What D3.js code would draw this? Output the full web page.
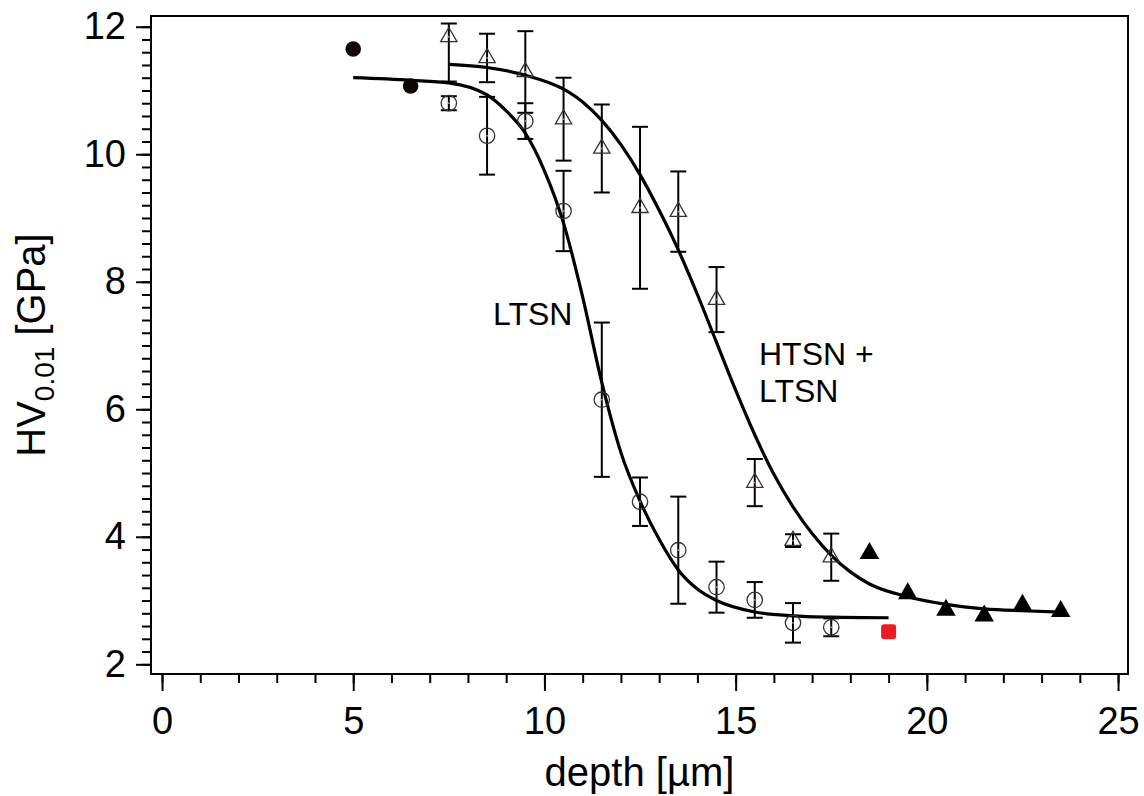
<!DOCTYPE html>
<html>
<head>
<meta charset="utf-8">
<script src="https://cdn.jsdelivr.net/npm/d3@7/dist/d3.min.js"></script>
<style>
	body { margin: 0; background: #fff; }
	svg text { font-family: Arial, "Liberation Sans", sans-serif; fill: #000; }
</style>
</head>
<body>
<svg id="chartSVG" width="1144" height="796"></svg>
<script>

// measured points, LTSN (open circles)
var ltsnX = [7.5, 8.5, 9.5, 10.5, 11.5, 12.5, 13.5, 14.5, 15.5, 16.5, 17.5];
var ltsnY = [10.80, 10.29, 10.52, 9.11, 6.15, 4.55, 3.79, 3.21, 3.01, 2.65, 2.58];
var ltsnErr = [0.11, 0.61, 0.28, 0.63, 1.21, 0.38, 0.84, 0.40, 0.28, 0.31, 0.14];

// HTSN + LTSN (open triangles)
var htsnX = [7.5, 8.5, 9.5, 10.5, 11.5, 12.5, 13.5, 14.5, 15.5, 16.5, 17.5];
var htsnY = [11.84, 11.51, 11.29, 10.55, 10.09, 9.16, 9.10, 7.72, 4.85, 3.94, 3.68];
var htsnErrUp = [0.21, 0.38, 0.64, 0.65, 0.69, 1.27, 0.63, 0.51, 0.37, 0.10, 0.37];
var htsnErrDown = [0.70, 0.38, 0.64, 0.65, 0.69, 1.27, 0.63, 0.51, 0.37, 0.10, 0.37];

// filled triangles
var deepX = [18.5, 19.5, 20.5, 21.5, 22.5, 23.5];
var deepY = [3.74, 3.11, 2.85, 2.76, 2.93, 2.83];

// filled circles near surface
var surfX = [5, 6.5];
var surfY = [11.65, 11.07];

// red square
var coreX = [19];
var coreY = [2.51];

// fitted curves
var ltsnFitX = [5, 6.5, 7.5, 8.5, 9, 9.5, 10, 10.5, 11, 11.5, 12, 12.5, 13, 13.5, 14, 14.5, 15.5, 16.5, 17.5, 19];
var ltsnFitY = [11.20, 11.16, 11.12, 10.93, 10.68, 10.33, 9.74, 8.92, 7.76, 6.42, 5.32, 4.56, 3.96, 3.48, 3.18, 3.00, 2.82, 2.76, 2.74, 2.73];

var htsnFitX = [7.5, 8.5, 9.5, 10.5, 11, 11.5, 12, 12.5, 13, 13.5, 14, 14.5, 15, 15.5, 16, 16.5, 17, 17.5, 18, 18.5, 19.5, 20.5, 21.5, 22.5, 23.5];
var htsnFitY = [11.41, 11.36, 11.24, 11.02, 10.82, 10.53, 10.15, 9.68, 9.12, 8.50, 7.80, 7.05, 6.30, 5.60, 4.98, 4.47, 4.05, 3.71, 3.45, 3.26, 3.06, 2.94, 2.87, 2.84, 2.82];

var xMajor = [0, 5, 10, 15, 20, 25];
var xMinor = d3.range(0, 26, 1);
var yMajor = [2, 4, 6, 8, 10, 12];
var yMinor = d3.range(2, 12.01, 0.2);

var svg = d3.select("#chartSVG");

var plot = {left: 151, right: 1128, top: 16, bottom: 674};

var xScale = d3.scaleLinear()
	.domain([-0.288, 25.26])
	.range([plot.left, plot.right]);

var yScale = d3.scaleLinear()
	.domain([1.848, 12.168])
	.range([plot.bottom, plot.top]);

function zip(xs, ys) {
	return xs.map(function(d, i) { return {x: d, y: ys[i]}; });
}

drawAxes();
drawCurves();
drawPoints();
drawLabels();

function drawAxes() {

	// minor ticks first, then the labelled ones
	svg.append("g")
		.attr("class", "xMinor")
		.attr("transform", "translate(0," + plot.bottom + ")")
		.call(d3.axisBottom(xScale).tickValues(xMinor).tickSize(9).tickFormat(""));

	svg.append("g")
		.attr("class", "xMajor")
		.attr("transform", "translate(0," + plot.bottom + ")")
		.call(d3.axisBottom(xScale).tickValues(xMajor).tickSize(17).tickPadding(16).tickFormat(d3.format("d")));

	svg.append("g")
		.attr("class", "yMinor")
		.attr("transform", "translate(" + plot.left + ",0)")
		.call(d3.axisLeft(yScale).tickValues(yMinor).tickSize(9).tickFormat(""));

	svg.append("g")
		.attr("class", "yMajor")
		.attr("transform", "translate(" + plot.left + ",0)")
		.call(d3.axisLeft(yScale).tickValues(yMajor).tickSize(15).tickPadding(10).tickFormat(d3.format("d")));

	svg.selectAll(".domain").remove();

	svg.selectAll(".tick line")
		.attr("stroke", "#000")
		.attr("stroke-width", 2);

	svg.selectAll(".tick text")
		.style("font-size", "38px");

	svg.append("rect")
		.attr("x", plot.left)
		.attr("y", plot.top)
		.attr("width", plot.right - plot.left)
		.attr("height", plot.bottom - plot.top)
		.attr("fill", "none")
		.attr("stroke", "#000")
		.attr("stroke-width", 2);

}

function drawCurves() {

	var line = d3.line()
		.curve(d3.curveMonotoneX)
		.x(function(d) { return xScale(d.x); })
		.y(function(d) { return yScale(d.y); });

	svg.append("g")
		.attr("class", "fits")
		.selectAll("path")
		.data([zip(ltsnFitX, ltsnFitY), zip(htsnFitX, htsnFitY)])
		.enter()
		.append("path")
		.attr("d", line)
		.attr("fill", "none")
		.attr("stroke", "#000")
		.attr("stroke-width", 3.2);

}

function errorBars(g, data) {

	var cap = 8;

	var bars = g.selectAll("g.err")
		.data(data)
		.enter()
		.append("g")
		.attr("class", "err")
		.attr("stroke", "#000")
		.attr("stroke-width", 2);

	bars.append("line")
		.attr("x1", d => xScale(d.x))
		.attr("x2", d => xScale(d.x))
		.attr("y1", d => yScale(d.lo))
		.attr("y2", d => yScale(d.hi));

	bars.append("line")
		.attr("x1", d => xScale(d.x) - cap)
		.attr("x2", d => xScale(d.x) + cap)
		.attr("y1", d => yScale(d.lo))
		.attr("y2", d => yScale(d.lo));

	bars.append("line")
		.attr("x1", d => xScale(d.x) - cap)
		.attr("x2", d => xScale(d.x) + cap)
		.attr("y1", d => yScale(d.hi))
		.attr("y2", d => yScale(d.hi));

}

function drawPoints() {

	var ltsn = ltsnX.map(function(d, i) {
		return {x: d, y: ltsnY[i], lo: ltsnY[i] - ltsnErr[i], hi: ltsnY[i] + ltsnErr[i]};
	});

	var htsn = htsnX.map(function(d, i) {
		return {x: d, y: htsnY[i], lo: htsnY[i] - htsnErrDown[i], hi: htsnY[i] + htsnErrUp[i]};
	});

	var g = svg.append("g").attr("class", "points");

	errorBars(g.append("g"), htsn);
	errorBars(g.append("g"), ltsn);

	var openTriangle = d3.symbol().type(d3.symbolTriangle).size(115);
	var fullTriangle = d3.symbol().type(d3.symbolTriangle).size(165);

	g.append("g")
		.selectAll("path")
		.data(htsn)
		.enter()
		.append("path")
		.attr("d", openTriangle)
		.attr("transform", d => "translate(" + xScale(d.x) + "," + yScale(d.y) + ")")
		.attr("fill", "none")
		.attr("stroke", "#333")
		.attr("stroke-width", 1.3);

	g.append("g")
		.selectAll("circle")
		.data(ltsn)
		.enter()
		.append("circle")
		.attr("cx", d => xScale(d.x))
		.attr("cy", d => yScale(d.y))
		.attr("r", 7.7)
		.attr("fill", "none")
		.attr("stroke", "#333")
		.attr("stroke-width", 1.3);

	// tiny reddish centre dots seen in the scan
	g.append("g")
		.selectAll("circle")
		.data(ltsn.concat(htsn))
		.enter()
		.append("circle")
		.attr("cx", d => xScale(d.x))
		.attr("cy", d => yScale(d.y))
		.attr("r", 0.9)
		.attr("fill", "#e08080");

	g.append("g")
		.selectAll("path")
		.data(zip(deepX, deepY))
		.enter()
		.append("path")
		.attr("d", fullTriangle)
		.attr("transform", d => "translate(" + xScale(d.x) + "," + yScale(d.y) + ")")
		.attr("fill", "#000");

	g.append("g")
		.selectAll("circle")
		.data(zip(surfX, surfY))
		.enter()
		.append("circle")
		.attr("cx", d => xScale(d.x))
		.attr("cy", d => yScale(d.y))
		.attr("r", 7.8)
		.attr("fill", "#100505");

	g.append("g")
		.selectAll("rect")
		.data(zip(coreX, coreY))
		.enter()
		.append("rect")
		.attr("x", d => xScale(d.x) - 7.5)
		.attr("y", d => yScale(d.y) - 7.5)
		.attr("width", 15)
		.attr("height", 15)
		.attr("rx", 3)
		.attr("fill", "#ec1c24");

}

function drawLabels() {

	svg.append("text")
		.attr("x", (plot.left + plot.right) / 2)
		.attr("y", 786)
		.attr("text-anchor", "middle")
		.style("font-size", "40px")
		.text("depth [µm]");

	var yTitle = svg.append("text")
		.attr("transform", "translate(45," + ((plot.top + plot.bottom) / 2) + ") rotate(-90)")
		.attr("text-anchor", "middle")
		.style("font-size", "40px");

	yTitle.append("tspan").text("HV");
	yTitle.append("tspan").attr("dy", 9).style("font-size", "28px").text("0.01");
	yTitle.append("tspan").attr("dy", -9).text(" [GPa]");

	svg.append("text")
		.attr("x", 493)
		.attr("y", 325)
		.style("font-size", "32px")
		.text("LTSN");

	svg.append("text")
		.attr("x", 759)
		.attr("y", 365)
		.style("font-size", "32px")
		.text("HTSN +");

	svg.append("text")
		.attr("x", 759)
		.attr("y", 402)
		.style("font-size", "32px")
		.text("LTSN");

}

</script>
</body>
</html>
